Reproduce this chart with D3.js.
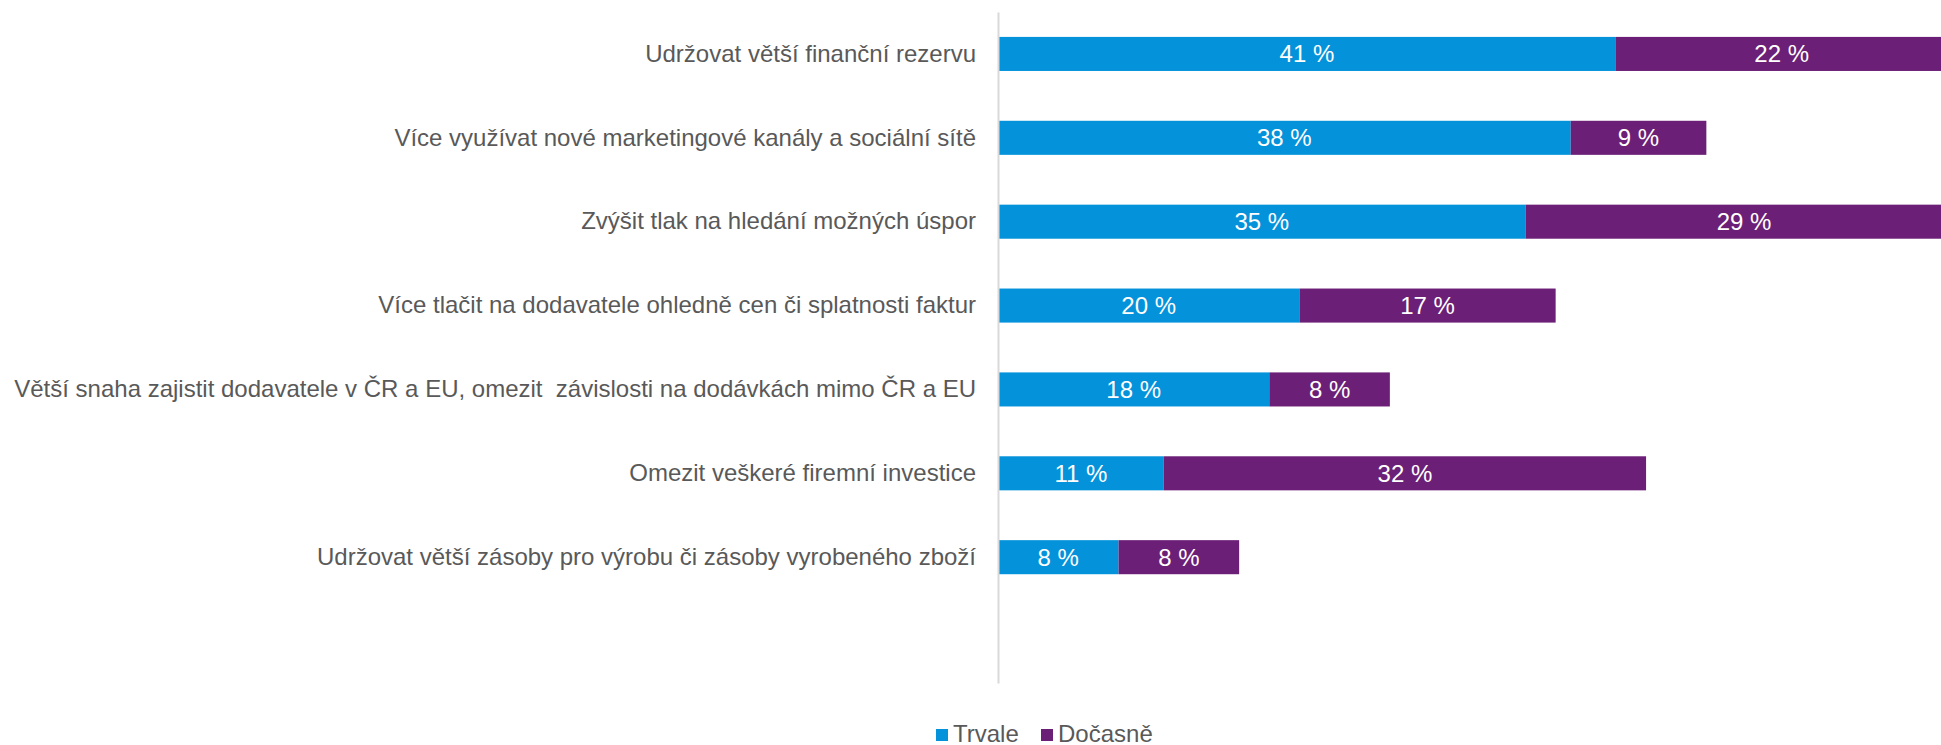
<!DOCTYPE html>
<html lang="cs">
  <head>
    <meta charset="utf-8">
    <title>Opatření firem</title>
    <script src="https://cdnjs.cloudflare.com/ajax/libs/d3/7.8.5/d3.min.js"></script>
    <style>
      body { margin: 0; background: #fff; }
      text { font-family: "Liberation Sans", Arial, sans-serif; }
      .catLabel { font-size: 24px; fill: #595959; white-space: pre; }
      .barLabel { font-size: 24px; fill: #fff; }
      .legendText { font-size: 24px; fill: #595959; }
    </style>
  </head>
  <body>
    <div class="chart"></div>
    <script>

      // Data
      var categories = [
        "Udržovat větší finanční rezervu",
        "Více využívat nové marketingové kanály a sociální sítě",
        "Zvýšit tlak na hledání možných úspor",
        "Více tlačit na dodavatele ohledně cen či splatnosti faktur",
        "Větší snaha zajistit dodavatele v ČR a EU, omezit  závislosti na dodávkách mimo ČR a EU",
        "Omezit veškeré firemní investice",
        "Udržovat větší zásoby pro výrobu či zásoby vyrobeného zboží",
        ""
      ];
      var trvale = [41, 38, 35, 20, 18, 11, 8];
      var docasne = [22, 9, 29, 17, 8, 32, 8];
      var seriesNames = ["Trvale", "Dočasně"];
      var colors = ["#0492da", "#6b1f76"];

      var svgWidth = 1941;
      var svgHeight = 745;

      var margin = { top: 12, left: 998 };
      var plotHeight = 671;

      var svg = d3.select(".chart")
        .append("svg")
        .attr("width", svgWidth)
        .attr("height", svgHeight);

      var chartGroup = svg.append("g")
        .attr("transform", `translate(${margin.left}, ${margin.top})`);

      // scales (plot area runs past the right edge of the picture)
      var xScale = d3.scaleLinear()
        .domain([0, 70])
        .range([0, 1055]);

      var yScale = d3.scaleBand()
        .domain(categories.map((c, i) => i))
        .range([0, plotHeight])
        .paddingInner(0.594)
        .paddingOuter(0.297);

      // stacked rows
      var rows = trvale.map((t, i) => ({ i: i, Trvale: t, "Dočasně": docasne[i] }));
      var stacked = d3.stack().keys(seriesNames)(rows);

      stacked.forEach(function (layer, k) {
        var g = chartGroup.append("g");
        g.selectAll("rect")
          .data(layer)
          .enter()
          .append("rect")
          .attr("x", d => xScale(d[0]))
          .attr("y", d => yScale(d.data.i))
          .attr("width", d => xScale(d[1]) - xScale(d[0]))
          .attr("height", yScale.bandwidth())
          .attr("fill", colors[k]);

        g.selectAll("text")
          .data(layer)
          .enter()
          .append("text")
          .attr("class", "barLabel")
          .attr("x", d => xScale((d[0] + d[1]) / 2))
          .attr("y", d => yScale(d.data.i) + yScale.bandwidth() / 2)
          .attr("dy", "0.35em")
          .attr("text-anchor", "middle")
          .text(d => (d[1] - d[0]) + " %");
      });

      // category axis
      var leftAxis = d3.axisLeft(yScale)
        .tickSize(0)
        .tickPadding(22)
        .tickFormat(i => categories[i]);

      var axisG = chartGroup.append("g").call(leftAxis);
      axisG.select(".domain")
        .attr("stroke", "#d9d9d9")
        .attr("stroke-width", 2);
      axisG.selectAll(".tick text")
        .attr("class", "catLabel")
        .attr("font-family", null)
        .attr("font-size", null)
        .attr("fill", null);

      // legend
      var legendX = [936, 1041];
      var legend = svg.append("g");
      seriesNames.forEach(function (name, k) {
        legend.append("rect")
          .attr("x", legendX[k])
          .attr("y", 729)
          .attr("width", 12)
          .attr("height", 12)
          .attr("fill", colors[k]);
        legend.append("text")
          .attr("class", "legendText")
          .attr("x", legendX[k] + 17)
          .attr("y", 742)
          .text(name);
      });
    </script>
  </body>
</html>
